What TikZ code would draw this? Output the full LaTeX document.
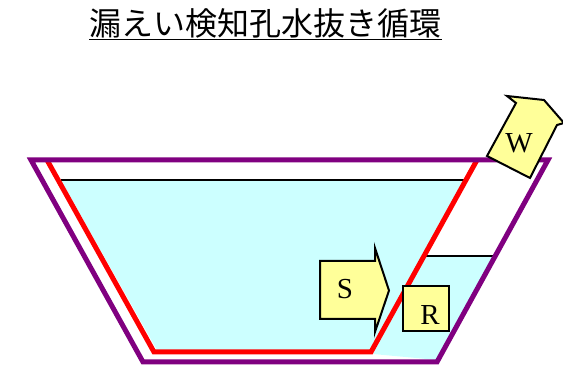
\documentclass[tikz,border=0pt]{standalone}
\usepackage{fontspec}
\setmainfont{Liberation Serif}
\newfontfamily\cjk{Noto Sans CJK JP}
\usetikzlibrary{calc}
\definecolor{mizu}{HTML}{CCFFFF}
\definecolor{kiiro}{HTML}{FFFF99}
\definecolor{murasaki}{HTML}{800080}
\tikzset{
outer tank/.style={draw=murasaki,line width=5pt,miter limit=20},
inner tank/.style={draw=red,line width=5pt},
water/.style={fill=mizu,draw=none},
level/.style={draw=black,line width=2pt},
yellow box/.style={fill=kiiro,draw=black,line width=2pt,line join=miter},
letter/.style={font=\fontsize{29}{29}\selectfont,inner sep=0pt}}

\begin{document}
\begin{tikzpicture}[x=1pt,y=-1pt]

\useasboundingbox (0,0) rectangle (563,366);

\node[font=\cjk\fontsize{32}{32}\selectfont,inner sep=0pt] (title) at (265.5,23) {漏えい検知孔水抜き循環};
\coordinate (u1) at (89,39.5);
\coordinate (u2) at (442,39.5);
\draw[line width=1.8pt] (u1) -- (u2);

\coordinate (a1) at (61,180);
\coordinate (a2) at (467,180);
\coordinate (b1) at (426,256);
\coordinate (b2) at (495,256);

\path[water] (a1) -- (a2) -- (370,350) -- (157,350) -- cycle;
\path[water] (b1) -- (b2) -- (438,360) -- (373,354) -- cycle;

\draw[level] (a1) -- (a2);
\draw[level] (b1) -- (b2);

\draw[inner tank] (47,160) -- (154,352) -- (371,352) -- (477,160);
\draw[outer tank] (31,160) -- (548,160) -- (437,362) -- (143,362) -- cycle;

\draw[yellow box] (320,261) -- (375,261) -- (375,248) -- (389,290.5) -- (375,332) -- (375,319) -- (320,319) -- cycle;
\node[letter] (S) at (345,289) {S};

\draw[yellow box] (403,286) rectangle (449,331);
\node[letter] (R) at (430,315) {R};

\draw[yellow box] (487,156) -- (516,103) -- (507,96) -- (544,100) -- (564,123) -- (557,125) -- (530,178) -- cycle;
\node[letter] (W) at (519,143) {W};

\end{tikzpicture}
\end{document}
